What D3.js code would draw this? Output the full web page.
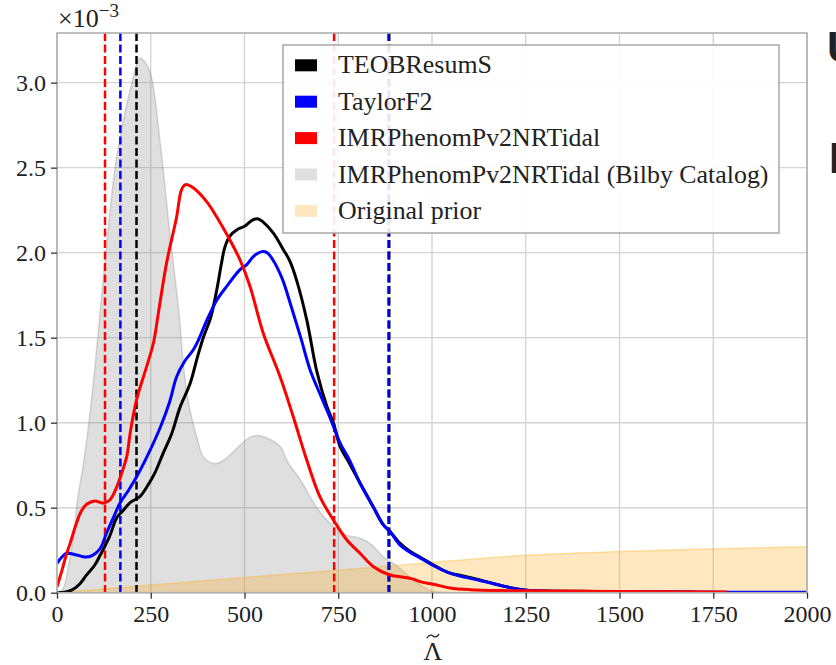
<!DOCTYPE html>
<html>
<head>
<meta charset="utf-8">
<script src="https://cdn.jsdelivr.net/npm/d3@7"></script>
<style>
  html, body { margin: 0; padding: 0; background: #ffffff; }
  svg { display: block; }
  text { font-family: "Liberation Serif", "Times New Roman", serif; fill: #222; }
</style>
</head>
<body>
<svg id="chart" width="836" height="665"></svg>
<script>
// ---------------- data ----------------
const xTicks = [0, 250, 500, 750, 1000, 1250, 1500, 1750, 2000];
const yTicks = [0.0, 0.5, 1.0, 1.5, 2.0, 2.5, 3.0];   // in units of 1e-3
const legendLabels = ["TEOBResumS", "TaylorF2", "IMRPhenomPv2NRTidal",
                      "IMRPhenomPv2NRTidal (Bilby Catalog)", "Original prior"];

// TEOBResumS posterior [Lambda, density x1e3]
const teob = [[0,0],[20,0.003],[39,0.015],[60,0.05],[79,0.105],[100,0.16],[115,0.22],[140,0.33],
  [159,0.44],[175,0.48],[195,0.53],[221,0.565],[239,0.62],[260,0.70],[283,0.82],[305,0.93],
  [328,1.09],[355,1.23],[375,1.39],[390,1.50],[410,1.62],[426,1.78],[438,1.93],[448,2.035],
  [462,2.10],[480,2.135],[500,2.155],[520,2.19],[535,2.20],[550,2.18],[577,2.115],[604,2.016],
  [621,1.95],[640,1.83],[666,1.605],[693,1.30],[719,1.10],[737,1.00],[755,0.86],[780,0.76],
  [808,0.645],[843,0.506],[870,0.40],[888,0.36],[915,0.29],[940,0.245],[968,0.21],[1012,0.153],
  [1048,0.115],[1080,0.10],[1128,0.075],[1170,0.05],[1208,0.03],[1252,0.015],[1300,0.01],
  [1400,0.008],[1500,0.006],[1600,0.005],[1700,0.004]];

// TaylorF2 posterior
const taylor = [[0,0.173],[13,0.21],[26,0.232],[52,0.222],[75,0.21],[95,0.22],[115,0.26],[132,0.35],
  [150,0.44],[168,0.527],[190,0.60],[212,0.68],[240,0.80],[275,0.97],[300,1.12],[319,1.27],
  [340,1.36],[364,1.43],[380,1.50],[399,1.60],[426,1.72],[452,1.80],[488,1.90],[506,1.93],
  [525,1.98],[546,2.006],[560,2.00],[575,1.96],[600,1.85],[625,1.68],[650,1.50],[675,1.31],
  [701,1.17],[728,1.03],[755,0.88],[780,0.78],[808,0.645],[843,0.506],[870,0.40],[888,0.36],
  [915,0.28],[940,0.24],[968,0.205],[1003,0.16],[1048,0.115],[1090,0.09],[1128,0.072],
  [1170,0.05],[1208,0.03],[1252,0.015],[1300,0.01],[1500,0.006],[1800,0.003],[2000,0.002]];

// IMRPhenomPv2NRTidal posterior
const phenom = [[0,0.035],[13,0.13],[26,0.232],[35,0.29],[52,0.41],[65,0.48],[79,0.52],[101,0.54],
  [124,0.527],[141,0.545],[159,0.62],[175,0.72],[186,0.80],[195,0.937],[212,1.133],[239,1.33],
  [257,1.467],[270,1.64],[292,1.937],[319,2.21],[332,2.37],[343,2.40],[364,2.38],
  [399,2.30],[426,2.21],[461,2.075],[488,1.957],[515,1.80],[550,1.526],[595,1.27],[630,1.035],
  [666,0.78],[701,0.565],[737,0.428],[773,0.31],[808,0.232],[844,0.153],[888,0.104],[915,0.094],
  [950,0.08],[968,0.065],[1003,0.05],[1048,0.028],[1100,0.018],[1200,0.012],[1300,0.01],
  [1500,0.007],[1786,0.004]];

// IMRPhenomPv2NRTidal (Bilby Catalog) posterior (filled)
const bilby = [[0,0],[15,0.02],[30,0.15],[45,0.35],[55,0.55],[70,0.75],[85,1.0],[100,1.3],[115,1.65],
  [135,2.1],[155,2.5],[181,2.82],[200,3.0],[221,3.145],[235,3.12],[250,3.05],[275,2.65],[300,2.13],
  [325,1.65],[340,1.28],[355,1.07],[372,0.92],[390,0.80],[410,0.765],[426,0.76],[445,0.78],
  [461,0.81],[490,0.87],[515,0.915],[535,0.925],[560,0.91],[595,0.86],[615,0.77],[650,0.66],
  [693,0.5],[737,0.39],[770,0.34],[808,0.32],[840,0.28],[870,0.21],[905,0.16],[950,0.075],
  [980,0.03],[1000,0.01],[1050,0],[2000,0]];

// Original prior (filled)
const prior = [[0,0],[250,0.045],[500,0.09],[750,0.132],[1000,0.178],[1250,0.22],[1500,0.242],
  [1750,0.258],[2000,0.27]];

// 90% credible bounds (dashed verticals)
const boundsTeob = [212, 886];
const boundsTaylor = [169, 884];
const boundsPhenom = [128, 739];

// ---------------- layout ----------------
const svg = d3.select("#chart");
const L = 57, R = 807, T = 33, B = 592.7;
const x = d3.scaleLinear().domain([0, 2000]).range([L, R]);
const y = d3.scaleLinear().domain([0, 3.292]).range([B, T]);

svg.append("defs").append("clipPath").attr("id", "clip")
  .append("rect").attr("x", L).attr("y", T).attr("width", R - L).attr("height", B - T);

// grid
const grid = svg.append("g");
grid.selectAll(".gx").data(xTicks).join("line")
  .attr("x1", d => x(d)).attr("x2", d => x(d)).attr("y1", T).attr("y2", B)
  .attr("stroke", "#d4d4d4").attr("stroke-width", 1.4);
grid.selectAll(".gy").data(yTicks).join("line")
  .attr("x1", L).attr("x2", R).attr("y1", d => y(d)).attr("y2", d => y(d))
  .attr("stroke", "#d4d4d4").attr("stroke-width", 1.4);

const plot = svg.append("g").attr("clip-path", "url(#clip)");

const area = d3.area().x(d => x(d[0])).y0(y(0)).y1(d => y(d[1])).curve(d3.curveCatmullRom);
const line = d3.line().x(d => x(d[0])).y(d => y(d[1])).curve(d3.curveCatmullRom);

// filled distributions
plot.append("path").datum(bilby).attr("d", area).attr("fill", "#808080").attr("fill-opacity", 0.25);
plot.append("path").datum(bilby).attr("d", line).attr("fill", "none")
  .attr("stroke", "#808080").attr("stroke-opacity", 0.3).attr("stroke-width", 1.5);
plot.append("path").datum(prior).attr("d", area).attr("fill", "#ffa500").attr("fill-opacity", 0.25);
plot.append("path").datum(prior).attr("d", line).attr("fill", "none")
  .attr("stroke", "#ffa500").attr("stroke-opacity", 0.3).attr("stroke-width", 1.5);

// dashed bounds
const dashed = [
  { v: boundsPhenom, c: "#ff0000" },
  { v: boundsTeob, c: "#000000" },
  { v: boundsTaylor, c: "#0000ff" }
];
dashed.forEach(s => {
  plot.selectAll(null).data(s.v).join("line")
    .attr("x1", d => x(d)).attr("x2", d => x(d)).attr("y1", T).attr("y2", B)
    .attr("stroke", s.c).attr("stroke-width", 2.5).attr("stroke-dasharray", "8,3.5");
});

// posterior curves
[[teob, "#000000"], [taylor, "#0000ff"], [phenom, "#ff0000"]].forEach(([d, c]) => {
  plot.append("path").datum(d).attr("d", line).attr("fill", "none")
    .attr("stroke", c).attr("stroke-width", 3).attr("stroke-linejoin", "round");
});

// spines
svg.append("rect").attr("x", L).attr("y", T).attr("width", R - L).attr("height", B - T)
  .attr("fill", "none").attr("stroke", "#b0b0b0").attr("stroke-width", 1.6);

// axes
const xAxis = svg.append("g").attr("transform", `translate(0,${B})`)
  .call(d3.axisBottom(x).tickValues(xTicks).tickFormat(d3.format("d")).tickSize(6).tickPadding(6));
const yAxis = svg.append("g").attr("transform", `translate(${L},0)`)
  .call(d3.axisLeft(y).tickValues(yTicks).tickFormat(d3.format(".1f")).tickSize(6).tickPadding(5));
[xAxis, yAxis].forEach(a => {
  a.select(".domain").remove();
  a.selectAll(".tick line").attr("stroke", "#333").attr("stroke-width", 1.3);
  a.selectAll(".tick text").style("font-family", '"Liberation Serif", serif')
    .style("font-size", "24px").attr("fill", "#222");
});

// offset text
const off = svg.append("text").attr("x", 58).attr("y", 27).style("font-size", "26px");
off.append("tspan").text("×10");
off.append("tspan").attr("dy", -10).style("font-size", "19px").text("−3");

// x label (tilde drawn as a small path above the Lambda)
svg.append("text").attr("x", 433).attr("y", 660).attr("text-anchor", "middle")
  .style("font-size", "26px").text("Λ");
const tx = 433, ty = 636;
svg.append("path")
  .attr("d", `M${tx - 6},${ty + 2} C${tx - 4},${ty - 2} ${tx - 1},${ty - 1} ${tx},${ty}` +
             ` C${tx + 1},${ty + 1} ${tx + 4},${ty + 2} ${tx + 6},${ty - 2}`)
  .attr("fill", "none").attr("stroke", "#222").attr("stroke-width", 1.4);

// legend
const lg = svg.append("g");
lg.append("rect").attr("x", 283).attr("y", 45).attr("width", 496).attr("height", 188)
  .attr("fill", "#ffffff").attr("fill-opacity", 0.9).attr("stroke", "#a8a8a8").attr("stroke-width", 1.5);
const legendColors = [
  { fill: "#000000", op: 1 }, { fill: "#0000ff", op: 1 }, { fill: "#ff0000", op: 1 },
  { fill: "#808080", op: 0.25 }, { fill: "#ffa500", op: 0.25 }
];
legendLabels.forEach((lab, i) => {
  const by = 73.3 + i * 36.4;
  lg.append("rect").attr("x", 295).attr("y", by - 14).attr("width", 22).attr("height", 12)
    .attr("fill", legendColors[i].fill).attr("fill-opacity", legendColors[i].op);
  lg.append("text").attr("x", 338).attr("y", by).style("font-size", "25.9px").text(lab);
});

// cut-off slide text at the right edge
svg.append("text").attr("x", 826).attr("y", 62)
  .style("font-family", '"Open Sans", sans-serif').style("font-weight", "bold").style("font-size", "42px")
  .attr("fill", "#1a1a1a").text("U");
svg.append("text").attr("x", 828).attr("y", 173)
  .style("font-family", '"Open Sans", sans-serif').style("font-weight", "bold").style("font-size", "42px")
  .attr("fill", "#1a1a1a").text("N");
</script>
</body>
</html>
